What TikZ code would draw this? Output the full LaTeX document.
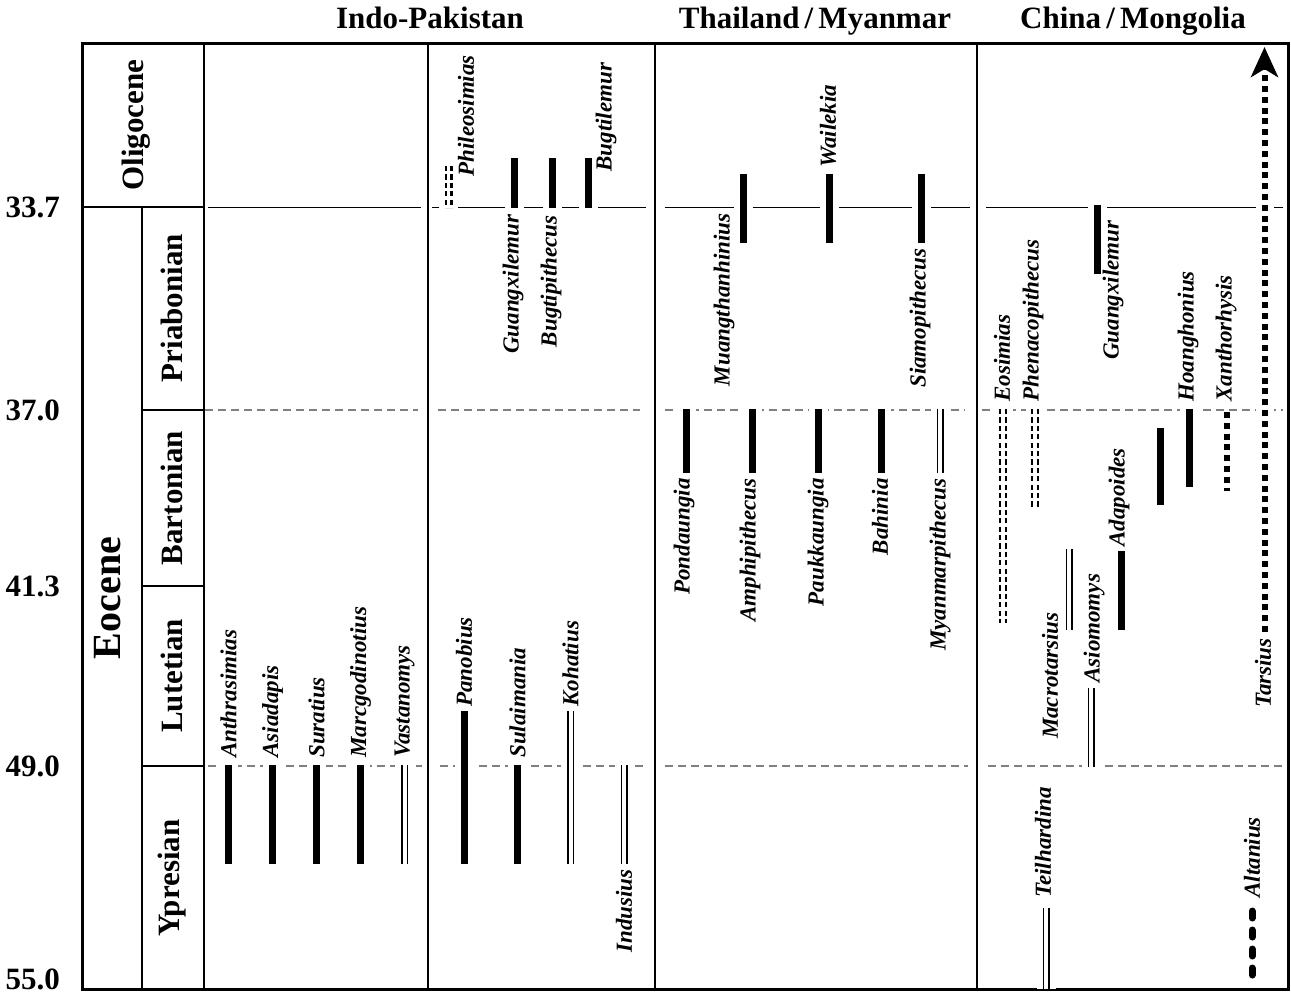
\documentclass[tikz,border=0pt]{standalone}
\usepackage{fontspec}
\setmainfont{Liberation Serif}
\usetikzlibrary{arrows.meta}

\begin{document}
\begin{tikzpicture}[x=0.5pt,y=-0.5pt,>={Stealth[length=15pt,width=13.5pt,inset=4pt]},
	grade/.style={line width=1.25pt},
	fino/.style={line width=0.5pt},
	limite/.style={gray,line width=0.7pt,dash pattern=on 4pt off 2.5pt},
	barra/.style={line width=3.5pt,preaction={draw=white,line width=9.5pt}},
	dupla/.style={barra,postaction={draw=white,line width=2pt}},
	duplatrac/.style={line width=4pt,preaction={draw=white,line width=9.5pt},postaction={draw=white,line width=1.8pt},dash pattern=on 2.6pt off 1.6pt},
	pontos/.style={line width=3pt,dash pattern=on 3pt off 2.4pt,preaction={draw=white,line width=9pt}},
	tracos/.style={line width=3.5pt,line cap=round,dash pattern=on 3.5pt off 6pt},
	rotulo/.style={rotate=90,fill=white,inner sep=1pt,font=\bfseries\itshape\fontsize{11.5}{12}\selectfont},
	andar/.style={rotate=90,font=\bfseries\fontsize{15.5}{18}\selectfont},
	regiao/.style={anchor=base,font=\bfseries\fontsize{15.5}{18}\selectfont},
	idade/.style={anchor=east,font=\bfseries\fontsize{15.5}{18}\selectfont}]
	
	\useasboundingbox (0,0) rectangle (1291,993);
	
	% Regioes
	\node[regiao] (indo) at (430,28) {Indo-Pakistan};
	\node[regiao] (thai) at (815,28) {Thailand\,/\,Myanmar};
	\node[regiao] (china) at (1133,28) {China\,/\,Mongolia};
	
	% Grade
	\draw[line width=1.5pt] (82,43) rectangle (1288,989);
	\draw[grade] (204,43) -- (204,989);
	\draw[grade] (428,43) -- (428,989);
	\draw[grade] (655,43) -- (655,989);
	\draw[grade] (977,43) -- (977,989);
	\draw[grade] (142,207) -- (142,989);
	\draw[grade] (82,207) -- (204,207);
	\draw[grade] (142,410) -- (204,410);
	\draw[grade] (142,586) -- (204,586);
	\draw[grade] (142,766) -- (204,766);
	
	% Idades (Ma)
	\node[idade] (i337) at (67,207) {33.7};
	\node[idade] (i370) at (67,410) {37.0};
	\node[idade] (i413) at (67,586) {41.3};
	\node[idade] (i490) at (67,766) {49.0};
	\node[idade] (i550) at (67,979) {55.0};
	
	% Epocas e andares
	\node[andar] (oligo) at (136,125) {Oligocene};
	\node[rotate=90,font=\bfseries\fontsize{20}{24}\selectfont] (eoceno) at (108,598) {Eocene};
	\node[andar] (priab) at (172,308) {Priabonian};
	\node[andar] (barto) at (172,498) {Bartonian};
	\node[andar] (lutet) at (172,676) {Lutetian};
	\node[andar] (ypres) at (172,878) {Ypresian};
	
	% Limites 33.7, 37.0 e 49.0
	\draw[fino] (208,207) -- (421,207);
	\draw[fino] (432,207) -- (646,207);
	\draw[fino] (665,207) -- (970,207);
	\draw[fino] (986,207) -- (1283,207);
	\draw[limite] (205,410) -- (418,410);
	\draw[limite] (438,410) -- (640,410);
	\draw[limite] (665,410) -- (965,410);
	\draw[limite] (982,410) -- (1283,410);
	\draw[limite] (208,766) -- (422,766);
	\draw[limite] (440,766) -- (644,766);
	\draw[limite] (665,766) -- (968,766);
	\draw[limite] (988,766) -- (1282,766);
	
	% Indo-Pakistan
	\draw[barra] (228.5,765) -- (228.5,864);
	\draw[barra] (272.5,765) -- (272.5,864);
	\draw[barra] (316.5,765) -- (316.5,864);
	\draw[barra] (360.5,765) -- (360.5,864);
	\draw[dupla] (404.5,765) -- (404.5,864);
	\node[rotulo,anchor=west] (anthrasimias) at (228.5,760) {Anthrasimias};
	\node[rotulo,anchor=west] (asiadapis) at (272.5,760) {Asiadapis};
	\node[rotulo,anchor=west] (suratius) at (316.5,760) {Suratius};
	\node[rotulo,anchor=west] (marcgodinotius) at (360.5,760) {Marcgodinotius};
	\node[rotulo,anchor=west] (vastanomys) at (404.5,760) {Vastanomys};
	
	\draw[barra] (464,711) -- (464,864);
	\draw[barra] (517.5,765) -- (517.5,864);
	\draw[dupla] (570.5,711) -- (570.5,864);
	\draw[dupla] (624,765) -- (624,864);
	\node[rotulo,anchor=west] (panobius) at (464,709) {Panobius};
	\node[rotulo,anchor=west] (sulaimania) at (517.5,760) {Sulaimania};
	\node[rotulo,anchor=west] (kohatius) at (570.5,709) {Kohatius};
	\node[rotulo,anchor=east] (indusius) at (624,867) {Indusius};
	
	\draw[duplatrac] (448.5,166) -- (448.5,208);
	\draw[barra] (514,158) -- (514,208);
	\draw[barra] (552,158) -- (552,208);
	\draw[barra] (588,158) -- (588,208);
	\node[rotulo,anchor=west] (phileosimias) at (466,179) {Phileosimias};
	\node[rotulo,anchor=east] (guangxiA) at (513,212) {Guangxilemur};
	\node[rotulo,anchor=east] (bugtipithecus) at (551,213) {Bugtipithecus};
	\node[rotulo,anchor=west] (bugtilemur) at (606,174) {Bugtilemur};
	
	% Thailand / Myanmar
	\draw[barra] (743,174) -- (743,243);
	\draw[barra] (829.5,174) -- (829.5,243);
	\draw[barra] (921,174) -- (921,243);
	\node[rotulo,anchor=east] (muangthanhinius) at (724,211) {Muangthanhinius};
	\node[rotulo,anchor=west] (wailekia) at (828,170) {Wailekia};
	\node[rotulo,anchor=east] (siamopithecus) at (920,246) {Siamopithecus};
	
	\draw[barra] (686.5,409) -- (686.5,473);
	\draw[barra] (752,409) -- (752,473);
	\draw[barra] (818,409) -- (818,473);
	\draw[barra] (881,409) -- (881,473);
	\draw[dupla] (940,409) -- (940,473);
	\node[rotulo,anchor=east] (pondaungia) at (684,476) {Pondaungia};
	\node[rotulo,anchor=east] (amphipithecus) at (750,476) {Amphipithecus};
	\node[rotulo,anchor=east] (paukkaungia) at (818,476) {Paukkaungia};
	\node[rotulo,anchor=east] (bahinia) at (880,476) {Bahinia};
	\node[rotulo,anchor=east] (myanmarpithecus) at (940,476) {Myanmarpithecus};
	
	% China / Mongolia
	\draw[barra] (1097,205) -- (1097,274);
	\node[rotulo,anchor=east] (guangxiB) at (1113,218) {Guangxilemur};
	
	\draw[duplatrac] (1003,409) -- (1003,623);
	\draw[duplatrac] (1035,409) -- (1035,507);
	\draw[barra] (1189,409) -- (1189,487);
	\draw[pontos] (1226.5,412) -- (1226.5,491);
	\draw[barra] (1160.5,428) -- (1160.5,505);
	\node[rotulo,anchor=west] (eosimias) at (1002,404) {Eosimias};
	\node[rotulo,anchor=west] (phenacopithecus) at (1033,404) {Phenacopithecus};
	\node[rotulo,anchor=west] (hoanghonius) at (1188,404) {Hoanghonius};
	\node[rotulo,anchor=west] (xanthorhysis) at (1226,404) {Xanthorhysis};
	
	\draw[barra] (1121.5,551) -- (1121.5,630);
	\draw[dupla] (1069,549) -- (1069,630);
	\draw[dupla] (1091,688) -- (1091,767);
	\node[rotulo,anchor=west] (adapoides) at (1119,549) {Adapoides};
	\node[rotulo,anchor=east] (macrotarsius) at (1050,610) {Macrotarsius};
	\node[rotulo,anchor=west] (asiomomys) at (1094,685) {Asiomomys};
	
	\draw[dupla] (1046,908) -- (1046,989);
	\draw[tracos] (1252,911) -- (1252,978);
	\node[rotulo,anchor=west] (teilhardina) at (1043,900) {Teilhardina};
	\node[rotulo,anchor=west] (altanius) at (1252,900) {Altanius};
	
	% Tarsius ate o presente
	\draw[pontos,->] (1264.5,632) -- (1264.5,47);
	\node[rotulo,anchor=east] (tarsius) at (1263,636) {Tarsius};
	
\end{tikzpicture}
\end{document}
